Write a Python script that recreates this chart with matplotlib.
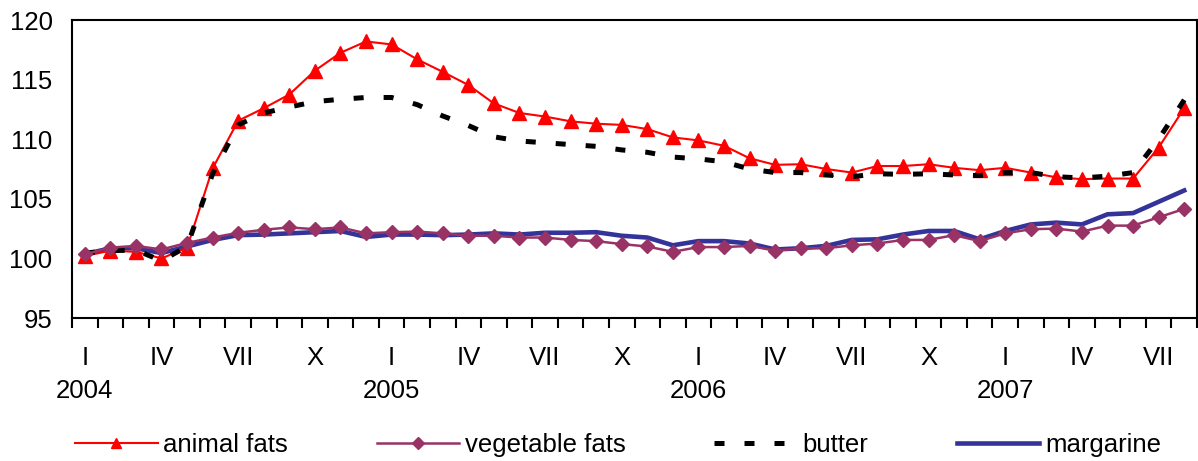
import matplotlib
matplotlib.use("Agg")
import matplotlib.pyplot as plt
import numpy as np

plt.rcParams['font.family'] = ['Liberation Sans', 'DejaVu Sans']

# monthly index, Jan 2004 - Aug 2007
animal = [100.2, 100.65, 100.55, 100.0, 100.9, 107.55, 111.55, 112.6, 113.75, 115.75,
          117.25, 118.2, 117.95, 116.7, 115.65, 114.55, 113.0, 112.2, 111.9, 111.5,
          111.3, 111.2, 110.85, 110.15, 109.9, 109.45, 108.4, 107.85, 107.9, 107.5,
          107.2, 107.75, 107.75, 107.9, 107.6, 107.4, 107.6, 107.2, 106.8, 106.65,
          106.7, 106.7, 109.3, 112.6]
vegetable = [100.35, 100.9, 101.05, 100.75, 101.3, 101.75, 102.15, 102.4, 102.6, 102.45,
             102.6, 102.1, 102.2, 102.25, 102.1, 101.9, 101.9, 101.75, 101.75, 101.55,
             101.45, 101.2, 101.0, 100.55, 100.95, 100.95, 101.05, 100.65, 100.85, 100.85,
             101.1, 101.25, 101.55, 101.55, 101.95, 101.45, 102.1, 102.45, 102.5, 102.25,
             102.75, 102.75, 103.45, 104.15]
butter = [100.45, 100.65, 100.7, 99.8, 101.0, 107.1, 111.2, 112.2, 112.7, 113.15,
          113.35, 113.5, 113.5, 112.9, 111.95, 111.15, 110.2, 109.85, 109.7, 109.55,
          109.4, 109.1, 108.9, 108.5, 108.35, 108.1, 107.5, 107.2, 107.2, 107.0,
          106.85, 107.1, 107.05, 107.1, 107.0, 106.95, 107.2, 107.2, 106.85, 106.75,
          106.9, 107.2, 110.0, 113.3]
margarine = [100.35, 100.85, 100.85, 100.45, 101.0, 101.55, 101.95, 102.0, 102.1, 102.2,
             102.3, 101.8, 102.0, 102.0, 101.95, 102.0, 102.1, 102.0, 102.15, 102.15,
             102.2, 101.9, 101.75, 101.1, 101.45, 101.45, 101.25, 100.75, 100.85, 101.05,
             101.55, 101.6, 102.0, 102.3, 102.3, 101.6, 102.3, 102.85, 103.0, 102.85,
             103.7, 103.8, 104.75, 105.7]

quarter_labels = ['I', 'IV', 'VII', 'X'] * 4
years = ['2004', '2005', '2006', '2007']

n = len(animal)
x = np.arange(n)
fs = 18.5

fig = plt.figure(figsize=(11.98, 4.61), dpi=100)
ax = fig.add_axes([72 / 1198, 1 - 318 / 461, (1197 - 72) / 1198, 298 / 461])

ax.plot(x, margarine, color='#333399', lw=3.3, zorder=2, label='margarine')
ax.plot(x, animal, color='#ff0000', lw=1.5, marker='^', ms=9.5, zorder=3, label='animal fats')
ax.plot(x, butter, color='black', lw=3.6, ls=(0, (2.0, 4.0)), zorder=4, label='butter')
ax.plot(x, vegetable, color='#993366', lw=1.8, marker='D', ms=7.5, zorder=5, label='vegetable fats')

ax.set_xlim(-0.5, n - 0.5)
ax.set_ylim(95, 120)
ax.set_yticks(np.arange(95, 121, 5))
ax.tick_params(axis='y', length=0, pad=14, labelsize=fs)

# tick marks at category boundaries, labels at quarter months
ax.set_xticks(np.arange(-0.5, n, 1))
ax.set_xticklabels([])
ax.tick_params(axis='x', which='major', length=7, width=1.5, direction='out')
ax.set_xticks(np.arange(0, n, 3), minor=True)
ax.set_xticklabels(quarter_labels[:len(np.arange(0, n, 3))], minor=True)
ax.tick_params(axis='x', which='minor', length=0, pad=20, labelsize=fs)

for i, yr in enumerate(years):
    ax.text(12 * i, -0.245, yr, transform=ax.get_xaxis_transform(),
            ha='center', va='center', fontsize=fs)

for s in ax.spines.values():
    s.set_linewidth(1.5)

h, l = ax.get_legend_handles_labels()
order = ['animal fats', 'vegetable fats', 'butter', 'margarine']
hh = [h[l.index(o)] for o in order]
fig.legend(hh, order, loc='center', bbox_to_anchor=(0.516, 0.035), ncol=4,
           frameon=False, fontsize=fs, handlelength=3.2, handletextpad=0.23,
           columnspacing=3.45, markerscale=0.75)

fig.savefig('out.png', dpi=100)
